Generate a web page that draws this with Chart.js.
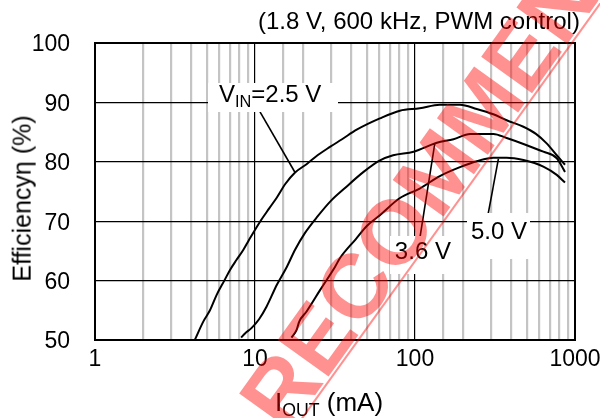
<!DOCTYPE html>
<html>
<head>
<meta charset="utf-8">
<script src="https://cdn.jsdelivr.net/npm/chart.js@4.4.1/dist/chart.umd.min.js"></script>
<style>
  html, body { margin: 0; padding: 0; background: #fff; }
  #wrap { position: relative; width: 600px; height: 418px; overflow: hidden; background: #fff; }
  #c { position: absolute; left: 0; top: 0; }
  .txt { position: absolute; font-family: "Liberation Sans", Arial, sans-serif; color: #000; white-space: nowrap; line-height: 1; }
  .txt sub { font-size: 0.68em; vertical-align: -0.28em; line-height: 0; }
  .box { position: absolute; background: #fff; }
  #wm { position: absolute; left: 0; top: 0; font-family: "Liberation Sans", Arial, sans-serif; font-weight: bold;
        font-size: 91px; line-height: 1; color: rgba(255, 0, 0, 0.43); white-space: nowrap; transform-origin: 0 0; }
  #wmline { position: absolute; left: 0; top: 0; height: 1.5px; background: rgba(255, 0, 0, 0.43); transform-origin: 0 0; }
</style>
</head>
<body>
<div id="wrap">
  <canvas id="c" width="600" height="418"></canvas>
  <div class="txt" id="title" style="font-size:24px;">(1.8 V, 600 kHz, PWM control)</div>
  <div class="txt" id="ytitle" style="font-size:25px;">Efficiencyη (%)</div>
  <div class="txt" id="xtitle" style="font-size:26px;">I<sub>OUT</sub> (mA)</div>
  <div class="box" id="box0"></div>
  <div class="box" id="box1"></div>
  <div class="box" id="box2"></div>
  <div class="txt ann" id="ann0" style="font-size:24px;">V<sub>IN</sub>=2.5 V</div>
  <div class="txt ann" id="ann1" style="font-size:24px;">3.6 V</div>
  <div class="txt ann" id="ann2" style="font-size:24px;">5.0 V</div>
  <div id="wmline"></div>
  <div id="wm">RECOMMENDED</div>
</div>
<script>
// ---- data ----
const iout25 = [4.22, 4.75, 5.23, 5.76, 6.43, 6.98, 7.67, 8.46, 9.15, 10.8, 12.3, 13.7, 15.5, 17.8, 21, 24.6, 29.4, 35, 43.2, 60.3, 80.5, 107, 143, 191, 243, 309, 374, 476, 570, 665, 769, 866];
const eff25  = [50.1, 53.1, 55.0, 57.6, 60.0, 61.8, 63.5, 65.2, 66.8, 70.0, 72.2, 74.0, 76.3, 78.2, 79.6, 81.1, 82.5, 83.8, 85.4, 87.3, 88.6, 89.0, 89.6, 89.6, 88.9, 88.0, 87.0, 85.9, 84.7, 83.1, 81.1, 79.5];
const iout36 = [8.2, 8.66, 9.5, 10.6, 11.8, 13.7, 15.8, 17.8, 20.5, 24.6, 30, 36.2, 47.7, 60, 73, 98, 137, 174, 221, 309, 374, 476, 634, 769, 866];
const eff36  = [50.4, 51.1, 52.0, 53.5, 55.6, 59.3, 62.3, 65.2, 68.0, 70.8, 73.5, 75.5, 78.3, 80.2, 81.1, 81.7, 83.2, 83.8, 84.7, 84.7, 84.0, 83.0, 81.7, 80.6, 78.3];
const iout50 = [16.9, 18.2, 18.9, 21, 25.5, 31.6, 34, 42.7, 50, 60.3, 80.5, 107, 143, 191, 243, 309, 374, 476, 634, 769, 866];
const eff50  = [50.4, 51.7, 53.1, 54.8, 58.4, 62.3, 63.8, 67.0, 69.2, 71.0, 73.9, 75.5, 77.6, 79.1, 80.1, 80.7, 80.7, 80.3, 79.2, 77.8, 76.5];
const seriesNames = ["VIN=2.5 V", "VIN=3.6 V", "VIN=5.0 V"];
const xTickLabels = [1, 10, 100, 1000];
const yTickLabels = [50, 60, 70, 80, 90, 100];
// annotation label anchors, white boxes behind them, and leader lines (all in data coords)
const annAt   = [[12.4, 91.4], [112, 65.0], [335, 68.35]];
const annBoxX = [[5.08, 33], [69.8, 183], [211, 523]];
const annBoxY = [[93.27, 88.38], [67.5, 61.1], [71.4, 63.6]];
const leaderFrom = [[10.75, 88.4], [107.5, 67.3], [287, 71.3]];
const leaderTo   = [[17.8, 78.2], [133, 83.1], [332, 80.5]];

function pts(xs, ys) { return xs.map((x, i) => ({ x: x, y: ys[i] })); }

const FONT = "'Liberation Sans', Arial, sans-serif";

const overlayPlugin = {
  id: 'overlay',
  afterDatasetsDraw(chart) {
    const ctx = chart.ctx, xs = chart.scales.x, ys = chart.scales.y, a = chart.chartArea;
    ctx.save();
    ctx.strokeStyle = '#000';
    ctx.lineWidth = 2;
    ctx.strokeRect(a.left, a.top, a.right - a.left, a.bottom - a.top);
    ctx.lineWidth = 1.6;
    for (let i = 0; i < leaderFrom.length; i++) {
      ctx.beginPath();
      ctx.moveTo(xs.getPixelForValue(leaderFrom[i][0]), ys.getPixelForValue(leaderFrom[i][1]));
      ctx.lineTo(xs.getPixelForValue(leaderTo[i][0]), ys.getPixelForValue(leaderTo[i][1]));
      ctx.stroke();
    }
    ctx.restore();
  },
  afterDraw(chart) {
    const xs = chart.scales.x, ys = chart.scales.y, a = chart.chartArea;
    for (let i = 0; i < annBoxX.length; i++) {
      const bx = document.getElementById('box' + i);
      const l = xs.getPixelForValue(annBoxX[i][0]), r = xs.getPixelForValue(annBoxX[i][1]);
      const t = ys.getPixelForValue(annBoxY[i][0]), b = ys.getPixelForValue(annBoxY[i][1]);
      bx.style.left = l + 'px'; bx.style.top = t + 'px';
      bx.style.width = (r - l) + 'px'; bx.style.height = (b - t) + 'px';
      const tx = document.getElementById('ann' + i);
      tx.style.left = (xs.getPixelForValue(annAt[i][0]) - tx.offsetWidth / 2) + 'px';
      tx.style.top = (ys.getPixelForValue(annAt[i][1]) - tx.offsetHeight / 2) + 'px';
    }
    const title = document.getElementById('title');
    title.style.left = (a.right + 5 - title.offsetWidth) + 'px';
    title.style.top = (a.top - 34) + 'px';
    const xt = document.getElementById('xtitle');
    xt.style.left = ((a.left + a.right) / 2 - xt.offsetWidth / 2 - 6) + 'px';
    xt.style.top = '389px';
    const yt = document.getElementById('ytitle');
    const w = yt.offsetWidth, h = yt.offsetHeight;
    const cx = 22, cy = (a.top + a.bottom) / 2 + 7;
    yt.style.left = (cx - w / 2) + 'px';
    yt.style.top = (cy - h / 2) + 'px';
    yt.style.transform = 'rotate(-90deg)';
    // watermark
    const ang = -54.3;
    const wm = document.getElementById('wm');
    const sx = 287, sy = 435;
    const asc = 0.8465 * 91;
    const rad = ang * Math.PI / 180;
    const dx = -Math.sin(rad), dy = Math.cos(rad);
    wm.style.left = (sx - asc * dx) + 'px';
    wm.style.top = (sy - asc * dy) + 'px';
    wm.style.transform = 'rotate(' + ang + 'deg)';
    const wl = document.getElementById('wmline');
    wl.style.left = '296px'; wl.style.top = '425px';
    wl.style.width = '520px';
    wl.style.transform = 'rotate(' + ang + 'deg)';
  }
};

const lineStyle = { borderColor: '#000', borderWidth: 2, pointRadius: 0, showLine: true, fill: false, cubicInterpolationMode: 'monotone' };

new Chart(document.getElementById('c'), {
  type: 'scatter',
  data: {
    datasets: [
      Object.assign({ label: seriesNames[0], data: pts(iout25, eff25) }, lineStyle),
      Object.assign({ label: seriesNames[1], data: pts(iout36, eff36) }, lineStyle),
      Object.assign({ label: seriesNames[2], data: pts(iout50, eff50) }, lineStyle)
    ]
  },
  options: {
    responsive: false,
    animation: false,
    events: [],
    layout: { padding: { left: 0, right: 0, top: 43, bottom: 0 } },
    plugins: { legend: { display: false }, tooltip: { enabled: false } },
    scales: {
      x: {
        type: 'logarithmic',
        min: 1, max: 1000,
        afterFit(s) { s.height = 78; s.paddingRight = 25; s.paddingLeft = 0; },
        border: { display: true, color: '#000', width: 2 },
        grid: {
          drawTicks: false,
          color(c) {
            const v = c.tick.value, l = Math.log10(v);
            return Math.abs(l - Math.round(l)) < 1e-9 ? '#000' : '#c4c4c4';
          },
          lineWidth(c) {
            const v = c.tick.value, l = Math.log10(v);
            return Math.abs(l - Math.round(l)) < 1e-9 ? 1.2 : 2.2;
          }
        },
        ticks: {
          autoSkip: false, maxRotation: 0, padding: 6, color: '#000',
          font: { family: FONT, size: 23 },
          callback(v) { return xTickLabels.includes(Number(v)) ? String(v) : ''; }
        }
      },
      y: {
        min: 50, max: 100,
        afterFit(s) { s.width = 95; },
        border: { display: true, color: '#000', width: 2 },
        grid: { drawTicks: false, color: '#000', lineWidth: 1.2 },
        ticks: {
          stepSize: 5, padding: 25, color: '#000', labelOffset: 2,
          font: { family: FONT, size: 23 },
          callback(v) { return yTickLabels.includes(v) ? String(v) : ''; }
        }
      }
    }
  },
  plugins: [overlayPlugin]
});
</script>
</body>
</html>
